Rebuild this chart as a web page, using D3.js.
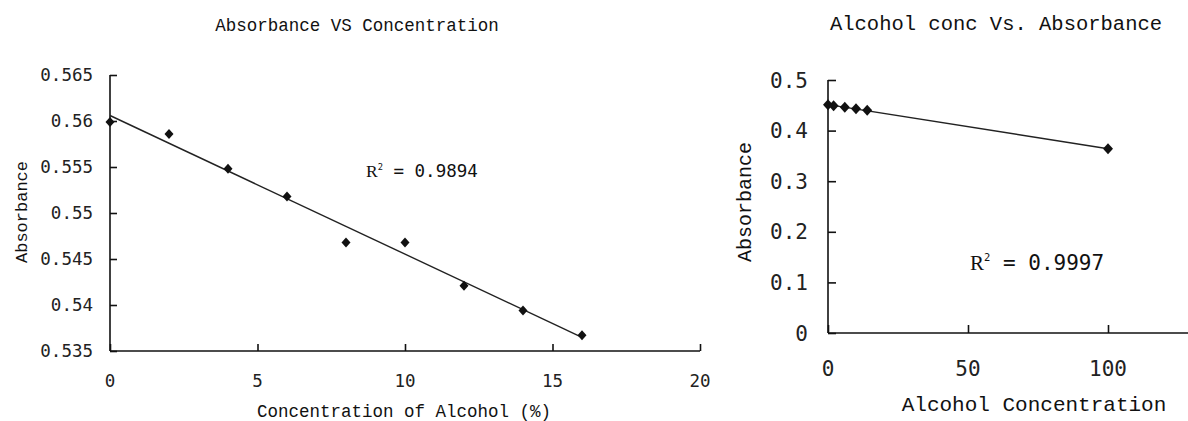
<!DOCTYPE html>
<html><head><meta charset="utf-8">
<script src="https://cdn.jsdelivr.net/npm/d3@7"></script>
<style>
html,body{margin:0;padding:0;background:#fff;}
svg{display:block;}
</style></head>
<body>
<svg id="c" width="1188" height="421"></svg>
<script>
// ---- Left chart data ----
const leftTitle = "Absorbance VS Concentration";
const leftXLabel = "Concentration of Alcohol (%)";
const leftYLabel = "Absorbance";
const leftR2 = "0.9894";
const leftConc = [0, 2, 4, 6, 8, 10, 12, 14, 16];
const leftAbs = [0.5599, 0.5586, 0.5548, 0.5518, 0.5468, 0.5468, 0.5421, 0.5394, 0.5367];
const leftXTicks = [0, 5, 10, 15, 20];
const leftYTicks = [0.535, 0.54, 0.545, 0.55, 0.555, 0.56, 0.565];

// ---- Right chart data ----
const rightTitle = "Alcohol conc Vs. Absorbance";
const rightXLabel = "Alcohol Concentration";
const rightYLabel = "Absorbance";
const rightR2 = "0.9997";
const rightConc = [0, 2, 6, 10, 14, 100];
const rightAbs = [0.451, 0.449, 0.446, 0.443, 0.440, 0.364];
const rightXTicks = [0, 50, 100];
const rightYTicks = [0, 0.1, 0.2, 0.3, 0.4, 0.5];

const svg = d3.select("#c");
const MONO = "'Liberation Mono','DejaVu Sans Mono',monospace";
const NUM = "'DejaVu Sans Mono','Liberation Mono',monospace";

function fit(xs, ys) {
  const mx = d3.mean(xs), my = d3.mean(ys);
  let sxy = 0, sxx = 0;
  xs.forEach((x, i) => { sxy += (x - mx) * (ys[i] - my); sxx += (x - mx) * (x - mx); });
  const b = sxy / sxx;
  return { b, a: my - b * mx };
}

function chart(o) {
  const g = svg.append("g");
  const x = d3.scaleLinear().domain(o.xDom).range(o.xRange);
  const y = d3.scaleLinear().domain(o.yDom).range(o.yRange);

  // axes
  const ya = d3.axisRight(y).tickValues(o.yTicks).tickSize(o.tick).tickFormat("");
  const yg = g.append("g").attr("transform", `translate(${o.xRange[0]},0)`).call(ya);
  const xa = d3.axisTop(x).tickValues(o.xTicks).tickSize(o.tick).tickFormat("");
  const xg = g.append("g").attr("transform", `translate(0,${o.yRange[0]})`).call(xa);
  [yg, xg].forEach(a => {
    a.select(".domain").remove();
    a.selectAll("line").attr("stroke", "#111").attr("stroke-width", 1.6);
  });
  g.append("line").attr("x1", o.xRange[0]).attr("x2", o.xRange[0])
    .attr("y1", o.yRange[0]).attr("y2", o.yRange[1]).attr("stroke", "#111").attr("stroke-width", 1.6);
  g.append("line").attr("x1", o.xRange[0]).attr("x2", o.xRange[1])
    .attr("y1", o.yRange[0]).attr("y2", o.yRange[0]).attr("stroke", "#111").attr("stroke-width", 1.6);

  // tick labels
  g.selectAll(".yl").data(o.yTicks).join("text")
    .attr("x", o.xRange[0] - o.yLabOff).attr("y", d => y(d))
    .attr("dy", "0.36em").attr("text-anchor", "end")
    .style("font-family", NUM).style("font-size", o.tickFont + "px").attr("fill", "#222")
    .text(d => String(d));
  g.selectAll(".xl").data(o.xTicks).join("text")
    .attr("x", d => x(d)).attr("y", o.xLabY)
    .attr("text-anchor", "middle")
    .style("font-family", NUM).style("font-size", o.tickFont + "px").attr("fill", "#222")
    .text(d => String(d));

  // trend line
  const f = fit(o.xs, o.ys);
  const x0 = d3.min(o.xs), x1 = d3.max(o.xs);
  g.append("line").attr("x1", x(x0)).attr("y1", y(f.a + f.b * x0))
    .attr("x2", x(x1)).attr("y2", y(f.a + f.b * x1))
    .attr("stroke", "#222").attr("stroke-width", 1.4);

  // markers
  g.selectAll(".pt").data(o.xs.map((v, i) => [v, o.ys[i]])).join("path")
    .attr("d", d => {
      const cx = x(d[0]), cy = y(d[1]), w = o.mw, h = o.mh;
      return `M${cx},${cy - h}L${cx + w},${cy}L${cx},${cy + h}L${cx - w},${cy}Z`;
    })
    .attr("fill", "#111");

  // texts
  g.append("text").attr("x", o.titleX).attr("y", o.titleY).attr("text-anchor", "middle")
    .style("font-family", MONO).style("font-size", o.titleFont + "px").attr("fill", "#111")
    .text(o.title);
  g.append("text").attr("x", o.xLabX).attr("y", o.xLabBase).attr("text-anchor", "middle")
    .style("font-family", MONO).style("font-size", o.labFont + "px").attr("fill", "#111")
    .text(o.xLabel);
  g.append("text").attr("transform", `translate(${o.yLabX},${o.yLabY}) rotate(-90)`)
    .attr("text-anchor", "middle")
    .style("font-family", MONO).style("font-size", o.yLabFont + "px").attr("fill", "#111")
    .text(o.yLabel);
  const r = g.append("text").attr("x", o.r2X).attr("y", o.r2Y)
    .style("font-family", NUM).style("font-size", o.r2Font + "px").attr("fill", "#111");
  r.append("tspan").style("font-family", "'Liberation Serif',serif").text("R");
  r.append("tspan").attr("dy", -o.r2Font * 0.42).style("font-size", (o.r2Font * 0.5) + "px").text("2");
  r.append("tspan").attr("dy", o.r2Font * 0.42).text(" = " + o.r2);
}

chart({
  xs: leftConc, ys: leftAbs, xDom: [0, 20], xRange: [110, 700],
  yDom: [0.535, 0.565], yRange: [351, 75], xTicks: leftXTicks, yTicks: leftYTicks,
  tick: 7, yLabOff: 17, xLabY: 387, tickFont: 17.5,
  mw: 4.5, mh: 5,
  title: leftTitle, titleX: 357, titleY: 31, titleFont: 17.5,
  xLabel: leftXLabel, xLabX: 404, xLabBase: 417, labFont: 17.5,
  yLabel: leftYLabel, yLabX: 27, yLabY: 212, yLabFont: 17,
  r2: leftR2, r2X: 366, r2Y: 177, r2Font: 17.5
});

chart({
  xs: rightConc, ys: rightAbs, xDom: [0, 150], xRange: [828, 1248],
  yDom: [0, 0.5], yRange: [333, 80], xTicks: rightXTicks, yTicks: rightYTicks,
  tick: 8, yLabOff: 20, xLabY: 376, tickFont: 21,
  mw: 5, mh: 5.5,
  title: rightTitle, titleX: 996, titleY: 30, titleFont: 20.5,
  xLabel: rightXLabel, xLabX: 1034, xLabBase: 411, labFont: 21,
  yLabel: rightYLabel, yLabX: 751, yLabY: 202, yLabFont: 20,
  r2: rightR2, r2X: 970, r2Y: 270, r2Font: 21
});
</script>
</body></html>
